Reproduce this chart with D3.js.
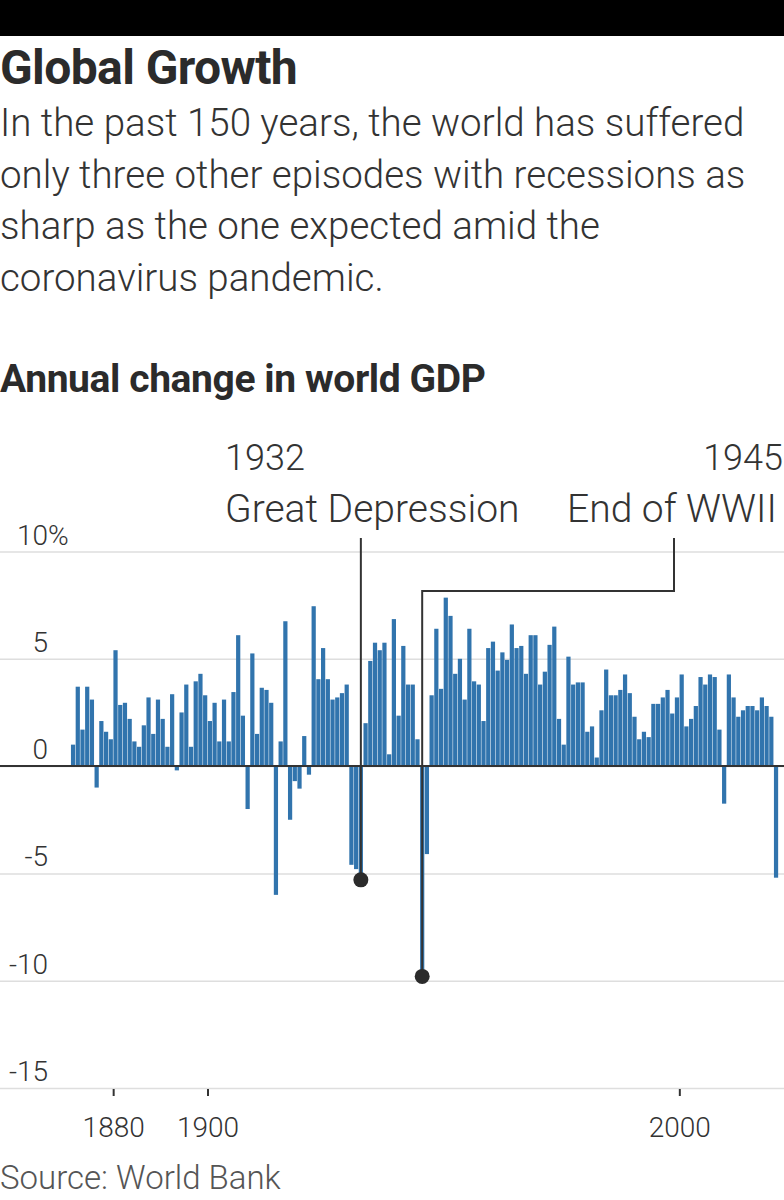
<!DOCTYPE html>
<html>
<head>
<meta charset="utf-8">
<script src="https://cdn.jsdelivr.net/npm/d3@7"></script>
<style>
  body { margin: 0; background: #fff; }
  svg text { font-family: Roboto, "Noto Sans", sans-serif; fill: #333; }
  .grid line { stroke: #dedede; stroke-width: 1.5; }
  .grid .domain { display: none; }
  .x.axis .domain { display: none; }
  .x.axis line { stroke: #333; stroke-width: 2; }
  .x.axis text { font-size: 28px; font-weight: 300; fill: #333; }
</style>
</head>
<body>
<div id="global-growth"></div>
<script>
// Years shown on the chart
var years = [
  1871, 1872, 1873, 1874, 1875, 1876, 1877, 1878, 1879,
  1880, 1881, 1882, 1883, 1884, 1885, 1886, 1887, 1888, 1889,
  1890, 1891, 1892, 1893, 1894, 1895, 1896, 1897, 1898, 1899,
  1900, 1901, 1902, 1903, 1904, 1905, 1906, 1907, 1908, 1909,
  1910, 1911, 1912, 1913, 1914, 1915, 1916, 1917, 1918, 1919,
  1920, 1921, 1922, 1923, 1924, 1925, 1926, 1927, 1928, 1929,
  1930, 1931, 1932, 1933, 1934, 1935, 1936, 1937, 1938, 1939,
  1940, 1941, 1942, 1943, 1944, 1945, 1946, 1947, 1948, 1949,
  1950, 1951, 1952, 1953, 1954, 1955, 1956, 1957, 1958, 1959,
  1960, 1961, 1962, 1963, 1964, 1965, 1966, 1967, 1968, 1969,
  1970, 1971, 1972, 1973, 1974, 1975, 1976, 1977, 1978, 1979,
  1980, 1981, 1982, 1983, 1984, 1985, 1986, 1987, 1988, 1989,
  1990, 1991, 1992, 1993, 1994, 1995, 1996, 1997, 1998, 1999,
  2000, 2001, 2002, 2003, 2004, 2005, 2006, 2007, 2008, 2009,
  2010, 2011, 2012, 2013, 2014, 2015, 2016, 2017, 2018, 2019,
  2020
];

// Annual change in world GDP, %
var growth = [
  1.0, 3.7, 1.7, 3.7, 3.1, -1.0, 2.1, 1.6, 1.25,
  5.4, 2.85, 2.95, 2.2, 1.15, 0.9, 1.9, 3.2, 1.5, 3.1,
  2.2, 0.9, 3.35, -0.2, 2.5, 3.8, 0.9, 3.95, 4.3, 3.3,
  2.1, 2.95, 1.15, 3.1, 1.15, 3.45, 6.1, 2.35, -2.0, 5.25,
  1.5, 3.65, 3.55, 2.95, -6.0, 1.15, 6.75, -2.5, -0.7, -1.05,
  1.4, -0.4, 7.45, 4.05, 5.5, 4.05, 3.1, 3.2, 3.4, 3.8,
  -4.6, -4.8, -5.3, 2.0, 4.9, 5.75, 5.4, 5.75, 0.55, 6.85,
  2.35, 5.6, 3.8, 3.8, 1.25, -9.8, -4.1, 3.3, 6.4, 3.6,
  7.85, 7.0, 4.3, 5.0, 3.1, 6.4, 3.95, 3.8, 2.1, 5.5,
  5.8, 4.45, 5.3, 4.95, 6.6, 5.5, 5.6, 4.3, 6.1, 6.1,
  3.8, 4.4, 5.65, 6.5, 2.2, 1.0, 5.1, 3.8, 3.9, 3.9,
  1.6, 1.85, 0.4, 2.6, 4.5, 3.3, 3.3, 3.55, 4.27, 3.4,
  2.3, 1.25, 1.6, 1.35, 2.9, 2.9, 3.2, 3.55, 2.45, 3.2,
  4.27, 1.85, 2.2, 2.8, 4.15, 3.8, 4.27, 4.15, 1.7, -1.75,
  4.27, 3.2, 2.3, 2.6, 2.8, 2.8, 2.6, 3.2, 2.8, 2.3,
  -5.2
];

var yTicks = [10, 5, 0, -5, -10, -15];
var xTicks = [1880, 1900, 2000];

// Annotated recessions
var noteYears = [1932, 1945];
var noteLabels = ["Great Depression", "End of WWII"];

var subtitleLines = [
  "In the past 150 years, the world has suffered",
  "only three other episodes with recessions as",
  "sharp as the one expected amid the",
  "coronavirus pandemic."
];

var render = function() {
  var width = 784;
  var height = 1200;

  var data = years.map(function(y, i) {
    return { year: y, value: growth[i] };
  });

  var container = d3.select("#global-growth");
  container.html("");

  var svg = container
    .append("svg")
    .attr("width", width)
    .attr("height", height);

  // Black strip at top
  svg.append("rect")
    .attr("x", 0)
    .attr("y", 0)
    .attr("width", width)
    .attr("height", 36)
    .attr("fill", "#000");

  // Headline + dek
  svg.append("text")
    .attr("x", 0)
    .attr("y", 84)
    .style("font-size", "48px")
    .style("font-weight", 700)
    .style("fill", "#2b2b2b")
    .style("letter-spacing", "-0.6px")
    .text("Global Growth");

  svg.append("g")
    .selectAll("text")
    .data(subtitleLines)
    .enter()
    .append("text")
    .attr("x", 0)
    .attr("y", (d, i) => 136 + i * 51.7)
    .style("font-size", "38.5px")
    .style("font-weight", 300)
    .text(d => d);

  svg.append("text")
    .attr("x", 0)
    .attr("y", 392)
    .style("font-size", "39px")
    .style("font-weight", 700)
    .style("fill", "#2b2b2b")
    .style("letter-spacing", "-0.4px")
    .text("Annual change in world GDP");

  // Scales
  var xScale = d3.scaleLinear()
    .domain([1871, 2021])
    .range([70.7, 778.4]);

  var yScale = d3.scaleLinear()
    .domain([-15, 10])
    .range([1088, 551.5]);

  var step = xScale(1872) - xScale(1871);

  // Gridlines
  var yGrid = d3.axisRight(yScale)
    .tickValues(yTicks)
    .tickSize(width)
    .tickFormat("");

  svg.append("g")
    .attr("class", "grid")
    .call(yGrid);

  // Y labels, numbers right-aligned with % hanging
  var yLabels = svg.append("g").attr("class", "y-labels");

  yLabels.selectAll("text")
    .data(yTicks)
    .enter()
    .append("text")
    .attr("x", 48)
    .attr("y", d => yScale(d) - 7)
    .attr("text-anchor", "end")
    .style("font-size", "28px")
    .style("font-weight", 300)
    .text(d => d);

  yLabels.append("text")
    .attr("x", 48)
    .attr("y", yScale(yTicks[0]) - 7)
    .style("font-size", "28px")
    .style("font-weight", 300)
    .text("%");

  // X axis
  var xAxis = d3.axisBottom(xScale)
    .tickValues(xTicks)
    .tickSize(7)
    .tickPadding(21)
    .tickFormat(d3.format("d"));

  svg.append("g")
    .attr("class", "x axis")
    .attr("transform", "translate(0," + (yScale(-15) + 1) + ")")
    .call(xAxis);

  // Bars
  svg.append("g")
    .attr("class", "bars")
    .selectAll("rect")
    .data(data)
    .enter()
    .append("rect")
    .attr("x", d => xScale(d.year) + 0.25)
    .attr("width", step - 0.5)
    .attr("y", d => (d.value >= 0 ? yScale(d.value) : yScale(0)))
    .attr("height", d => Math.abs(yScale(d.value) - yScale(0)))
    .attr("fill", "#3174ad");

  // Zero line
  svg.append("line")
    .attr("x1", 0)
    .attr("x2", width)
    .attr("y1", yScale(0))
    .attr("y2", yScale(0))
    .attr("stroke", "#333")
    .attr("stroke-width", 2);

  // Annotations
  var notes = noteYears.map(function(y, i) {
    return { year: y, label: noteLabels[i], value: growth[years.indexOf(y)] };
  });

  var gd = notes[0];
  var ww = notes[1];
  var gdX = xScale(gd.year + 0.5);
  var wwX = xScale(ww.year + 0.5);
  var lineTop = 538;

  var ann = svg.append("g").attr("class", "annotations");

  ann.append("line")
    .attr("x1", gdX)
    .attr("x2", gdX)
    .attr("y1", lineTop)
    .attr("y2", yScale(gd.value))
    .attr("stroke", "#333")
    .attr("stroke-width", 2);

  ann.append("path")
    .attr("d", d3.line()([
      [wwX, yScale(ww.value)],
      [wwX, 591],
      [674, 591],
      [674, lineTop]
    ]))
    .attr("fill", "none")
    .attr("stroke", "#333")
    .attr("stroke-width", 2);

  ann.selectAll("circle")
    .data(notes)
    .enter()
    .append("circle")
    .attr("cx", d => xScale(d.year + 0.5))
    .attr("cy", d => yScale(d.value))
    .attr("r", 7.5)
    .attr("fill", "#2b2b2b");

  ann.append("text")
    .attr("x", 225)
    .attr("y", 470)
    .style("font-size", "36px")
    .style("font-weight", 300)
    .text(gd.year);

  ann.append("text")
    .attr("x", 225)
    .attr("y", 522)
    .style("font-size", "39px")
    .style("font-weight", 300)
    .text(gd.label);

  ann.append("text")
    .attr("x", 783)
    .attr("y", 470)
    .attr("text-anchor", "end")
    .style("font-size", "36px")
    .style("font-weight", 300)
    .text(ww.year);

  ann.append("text")
    .attr("x", 567)
    .attr("y", 522)
    .style("font-size", "39px")
    .style("font-weight", 300)
    .text(ww.label);

  // Source
  svg.append("text")
    .attr("x", 0)
    .attr("y", 1189)
    .style("font-size", "33px")
    .style("font-weight", 300)
    .style("fill", "#555")
    .text("Source: World Bank");
};

window.onload = render;
</script>
</body>
</html>
